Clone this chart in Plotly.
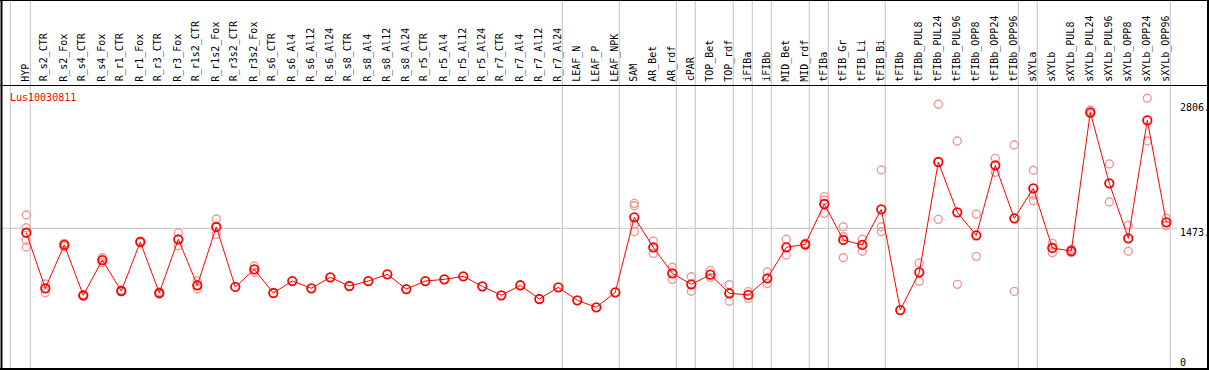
import plotly.graph_objects as go

categories = ["HYP", "R_s2_CTR", "R_s2_Fox", "R_s4_CTR", "R_s4_Fox", "R_r1_CTR", "R_r1_Fox",
              "R_r3_CTR", "R_r3_Fox", "R_r1s2_CTR", "R_r1s2_Fox", "R_r3s2_CTR", "R_r3s2_Fox",
              "R_s6_CTR", "R_s6_Al4", "R_s6_Al12", "R_s6_Al24", "R_s8_CTR", "R_s8_Al4", "R_s8_Al12",
              "R_s8_Al24", "R_r5_CTR", "R_r5_Al4", "R_r5_Al12", "R_r5_Al24", "R_r7_CTR", "R_r7_Al4",
              "R_r7_Al12", "R_r7_Al24", "LEAF_N", "LEAF_P", "LEAF_NPK", "SAM", "AR_Bet", "AR_rdf",
              "cPAR", "TOP_Bet", "TOP_rdf", "iFIBa", "iFIBb", "MID_Bet", "MID_rdf", "tFIBa",
              "tFIB_Gr", "tFIB_Li", "tFIB_Bi", "tFIBb", "tFIBb_PUL8", "tFIBb_PUL24", "tFIBb_PUL96",
              "tFIBb_OPP8", "tFIBb_OPP24", "tFIBb_OPP96", "sXYLa", "sXYLb", "sXYLb_PUL8",
              "sXYLb_PUL24", "sXYLb_PUL96", "sXYLb_OPP8", "sXYLb_OPP24", "sXYLb_OPP96"]

mean_values = [1426, 836, 1296, 761, 1136, 807, 1328, 786, 1356, 868, 1487, 850, 1037,
               786, 913, 836, 952, 860, 913, 984, 828, 913, 931, 963, 857, 761, 868, 722, 846,
               708, 634, 793, 1590, 1271, 995, 878, 980, 783, 765, 942, 1271, 1303, 1731,
               1349, 1296, 1675, 605, 1005, 2177, 1643, 1398, 2142, 1579, 1897, 1264, 1232,
               2705, 1951, 1367, 2620, 1537]

rep_categories = (["HYP"] * 4 + ["R_s2_CTR"] * 2 + ["R_s2_Fox"] * 2 + ["R_s4_CTR"] * 2 +
                  ["R_s4_Fox"] * 2 + ["R_r1_CTR"] * 2 + ["R_r1_Fox"] * 2 + ["R_r3_CTR"] * 2 +
                  ["R_r3_Fox"] * 2 + ["R_r1s2_CTR"] * 2 + ["R_r1s2_Fox"] * 2 + ["R_r3s2_Fox"] * 2 +
                  ["SAM"] * 4 + ["AR_Bet"] * 2 + ["AR_rdf"] * 2 + ["cPAR"] * 2 + ["TOP_Bet"] * 2 +
                  ["TOP_rdf"] * 2 + ["iFIBa"] * 2 + ["iFIBb"] * 2 + ["MID_Bet"] * 2 + ["MID_rdf"] * 2 +
                  ["tFIBa"] * 3 + ["tFIB_Gr"] * 3 + ["tFIB_Li"] * 2 + ["tFIB_Bi"] * 3 +
                  ["tFIBb_PUL8"] * 2 + ["tFIBb_PUL24"] * 2 + ["tFIBb_PUL96"] * 2 + ["tFIBb_OPP8"] * 2 +
                  ["tFIBb_OPP24"] * 2 + ["tFIBb_OPP96"] * 2 + ["sXYLa"] * 3 + ["sXYLb"] * 2 +
                  ["sXYLb_PUL8"] * 2 + ["sXYLb_PUL24"] * 2 + ["sXYLb_PUL96"] * 2 + ["sXYLb_OPP8"] * 2 +
                  ["sXYLb_OPP24"] * 2 + ["sXYLb_OPP96"] * 2)

rep_values = [1614, 1479, 1346, 1274, 881, 789, 1313, 1278, 770, 752,
              1161, 1108, 815, 800, 1335, 1320, 797, 776,
              1426, 1288, 917, 828, 1572, 1409, 1073, 1006,
              1738, 1713, 1515, 1437, 1338, 1207, 1059, 931, 959, 804, 1023, 952,
              874, 698, 800, 730, 1009, 885, 1356, 1189, 1315, 1290,
              1809, 1774, 1632, 1490, 1384, 1161, 1356, 1229, 2092, 1490, 1437,
              1104, 910, 2790, 1568, 2400, 878, 1622, 1175,
              2216, 2067, 2358, 803, 2089, 1827, 1766, 1313, 1214,
              1250, 1214, 2729, 2690, 2156, 1752, 1505, 1229,
              2854, 2400, 1579, 1501]

group_ends = ["_start", "HYP", "R_r7_Al24", "LEAF_NPK", "AR_rdf", "cPAR", "TOP_rdf", "iFIBa", "iFIBb",
              "MID_rdf", "tFIBa", "tFIB_Bi", "tFIBb_OPP96", "sXYLa", "sXYLb_OPP96"]

gene_name = "Lus10030811"
tick_values = [2806, 1473, 0]
tick_labels = ["2806.", "1473.", "0"]
grid_value = 1473

W, H = 1209, 370
STEP = 19.0
X0PIX = 26.3
ZERO_PIX = 367.0
K = 0.09416

idx = {c: i for i, c in enumerate(categories)}
xs = [idx[c] for c in categories]
rep_x = [idx[c] for c in rep_categories]

x0 = -X0PIX / STEP
x1 = x0 + W / STEP
y_lo = -(H - ZERO_PIX) / K
y_hi = ZERO_PIX / K


def pyp(ypix):
    return 1 - ypix / H


def pxp(xpix):
    return xpix / W


fig = go.Figure()
fig.add_trace(go.Scatter(
    x=rep_x, y=rep_values, mode="markers",
    marker=dict(symbol="circle-open", size=8, color="#EE9A9A", line=dict(width=1.4, color="#EE9A9A")),
    hoverinfo="skip", showlegend=False))
fig.add_trace(go.Scatter(
    x=xs, y=mean_values, mode="lines+markers",
    line=dict(color="#FF0000", width=1),
    marker=dict(symbol="circle-open", size=8.5, color="#FF0000", line=dict(width=1.8, color="#FF0000")),
    showlegend=False))

shapes = []
gray = "#C4C4C4"
for g in group_ends:
    gi = -1 if g == "_start" else idx[g]
    xl = gi + 0.21 if g != "_start" else gi + 0.16
    shapes.append(dict(type="line", xref="x", yref="paper", x0=xl, x1=xl, y0=0, y1=1,
                       line=dict(color=gray, width=1), layer="below"))
shapes.append(dict(type="line", xref="paper", yref="y", x0=0, x1=pxp(1177),
                   y0=grid_value, y1=grid_value, line=dict(color=gray, width=1), layer="below"))
# frame
blk = "black"
shapes += [
    dict(type="line", xref="paper", yref="paper", x0=0, x1=1, y0=pyp(0.5), y1=pyp(0.5), line=dict(color=blk, width=1)),
    dict(type="line", xref="paper", yref="paper", x0=0, x1=1, y0=pyp(85.5), y1=pyp(85.5), line=dict(color=blk, width=1)),
    dict(type="line", xref="paper", yref="paper", x0=0, x1=1, y0=pyp(369), y1=pyp(369), line=dict(color=blk, width=2)),
    dict(type="line", xref="paper", yref="paper", x0=pxp(1.5), x1=pxp(1.5), y0=0, y1=1, line=dict(color=blk, width=2)),
    dict(type="line", xref="paper", yref="paper", x0=pxp(1208), x1=pxp(1208), y0=0, y1=1, line=dict(color=blk, width=2)),
]

font = "DejaVu Sans Mono"
annotations = []
for c in categories:
    annotations.append(dict(x=idx[c] - 1.0 / STEP, y=pyp(83.5), xref="x", yref="paper", text=c,
                            textangle=-90, xanchor="center", yanchor="bottom", showarrow=False,
                            font=dict(family=font, size=10, color="black")))
annotations.append(dict(x=pxp(8), y=pyp(97.7), xref="paper", yref="paper", text=gene_name,
                        xanchor="left", yanchor="middle", showarrow=False,
                        font=dict(family=font, size=10, color="#FF0000")))
for v, t in zip(tick_values, tick_labels):
    ypix = ZERO_PIX - K * v + 4.5
    ypix = min(ypix, 362.3)
    annotations.append(dict(x=pxp(1177.5), y=pyp(ypix), xref="paper", yref="paper", text=t,
                            xanchor="left", yanchor="middle", showarrow=False,
                            font=dict(family=font, size=10, color="black")))

fig.update_layout(
    width=W, height=H, autosize=False,
    margin=dict(l=0, r=0, t=0, b=0, pad=0),
    paper_bgcolor="white", plot_bgcolor="white",
    xaxis=dict(range=[x0, x1], visible=False, fixedrange=True),
    yaxis=dict(range=[y_lo, y_hi], visible=False, fixedrange=True),
    shapes=shapes, annotations=annotations,
)

fig.write_html("out.html", config={"displayModeBar": False},
               post_script="document.body.style.margin='0';document.body.style.overflow='hidden';")
